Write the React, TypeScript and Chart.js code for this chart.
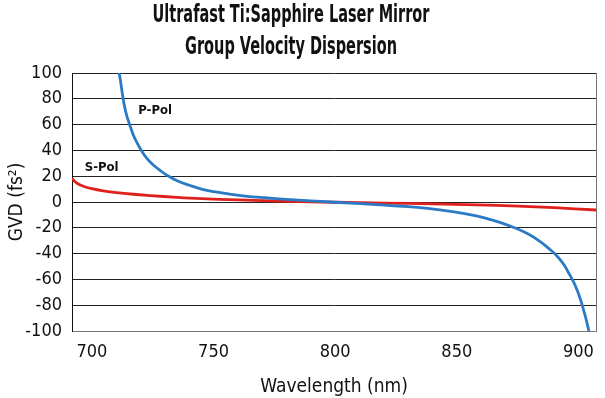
import React, { useEffect, useRef } from "react";
import { Chart, registerables } from "chart.js";

Chart.register(...registerables);

const TITLE_LINES = ["Ultrafast Ti:Sapphire Laser Mirror", "Group Velocity Dispersion"];
const X_TITLE = "Wavelength (nm)";
const Y_TITLE = "GVD (fs²)";

const X_TICKS = [700, 750, 800, 850, 900];
const Y_TICKS = [-100, -80, -60, -40, -20, 0, 20, 40, 60, 80, 100];
const X_MIN = 691.8;
const X_MAX = 907.3;

const P_POL_WL = [711.2, 711.8, 712.5, 713.3, 714.3, 715.5, 717, 718.5, 720.3, 722.5, 725, 728, 731, 735, 740, 745, 750, 756, 763, 771, 780, 790, 798, 806, 815, 823, 830, 838, 846, 852, 858, 863, 868, 874, 879, 884, 888, 891, 894, 896, 898, 899.5, 901, 902, 903, 904.3];
const P_POL_GVD = [100, 93, 84, 75, 67, 60, 52, 46, 40, 34, 29, 24.5, 20.5, 16.5, 13, 10, 8, 6.3, 4.6, 3.3, 2.1, 0.9, 0, -0.8, -1.8, -2.8, -3.6, -5, -6.8, -8.6, -10.8, -13.2, -16, -20.2, -24.5, -30.3, -36.3, -41.5, -48.5, -55, -62, -68.5, -76.5, -82.8, -89.7, -100];

const S_POL_WL = [691.8, 692.5, 693.5, 695, 697, 700, 704, 710, 717, 724, 735, 745, 760, 780, 800, 820, 840, 858, 875, 890, 907.3];
const S_POL_GVD = [18.5, 16.8, 15, 13.3, 11.8, 10.3, 8.8, 7.3, 6, 5, 3.6, 2.6, 1.6, 0.5, -0.2, -0.8, -1.5, -2.2, -3.2, -4.4, -6.2];

const SERIES_LABELS = ["P-Pol", "S-Pol"];
const LABEL_WL = [726, 704];
const LABEL_GVD = [71, 26.5];

const FONT = "'DejaVu Sans Condensed', 'Liberation Sans Narrow', 'Liberation Sans', sans-serif";

export default function App() {
  const ref = useRef<HTMLCanvasElement | null>(null);

  useEffect(() => {
    document.body.style.margin = "0";
    const canvas = ref.current;
    if (!canvas) return;

    const overlay = {
      id: "overlay",
      afterDraw(chart: any) {
        const ctx = chart.ctx;
        const xs = chart.scales.x;
        const ys = chart.scales.y;
        const area = chart.chartArea;
        ctx.save();
        ctx.strokeStyle = "#777";
        ctx.lineWidth = 1;
        ctx.beginPath();
        ctx.moveTo(Math.round(area.right) + 0.5, area.top);
        ctx.lineTo(Math.round(area.right) + 0.5, area.bottom);
        ctx.stroke();
        ctx.fillStyle = "#111";
        ctx.font = `bold 13px ${FONT}`;
        ctx.textAlign = "center";
        ctx.textBaseline = "middle";
        SERIES_LABELS.forEach((t, i) => {
          ctx.fillText(t, xs.getPixelForValue(LABEL_WL[i]), ys.getPixelForValue(LABEL_GVD[i]));
        });
        ctx.font = `bold 24px ${FONT}`;
        ctx.textBaseline = "alphabetic";
        const w0 = ctx.measureText(TITLE_LINES[0]).width;
        const sx = Math.min(1, 277 / w0);
        const cx = 291;
        const baselines = [22, 53.5];
        TITLE_LINES.forEach((t, i) => {
          ctx.save();
          ctx.translate(cx, baselines[i]);
          ctx.scale(sx, 1);
          ctx.fillText(t, 0, 0);
          ctx.restore();
        });
        ctx.restore();
      },
    };

    const chart = new Chart(canvas, {
      type: "line",
      data: {
        datasets: [
          {
            label: SERIES_LABELS[0],
            data: P_POL_WL.map((x, i) => ({ x, y: P_POL_GVD[i] })),
            borderColor: "#2a7ac6",
            borderWidth: 2.8,
            pointRadius: 0,
            tension: 0.4,
            fill: false,
          },
          {
            label: SERIES_LABELS[1],
            data: S_POL_WL.map((x, i) => ({ x, y: S_POL_GVD[i] })),
            borderColor: "#e0201c",
            borderWidth: 2.8,
            pointRadius: 0,
            tension: 0.4,
            fill: false,
          },
        ],
      },
      options: {
        animation: false,
        responsive: false,
        maintainAspectRatio: false,
        layout: { padding: { top: 73, right: 4, left: 0, bottom: 0 } },
        plugins: {
          legend: { display: false },
          title: { display: false },
          tooltip: { enabled: false },
        },
        scales: {
          x: {
            type: "linear",
            min: X_MIN,
            max: X_MAX,
            afterBuildTicks: (s: any) => {
              s.ticks = X_TICKS.map((v) => ({ value: v }));
            },
            afterFit: (s: any) => {
              s.height = 67;
            },
            grid: { display: false, drawTicks: false },
            border: { display: true, color: "#777", width: 1 },
            ticks: {
              color: "#111",
              font: { family: FONT, size: 18 },
              padding: 11,
              maxRotation: 0,
              autoSkip: false,
            },
            title: {
              display: true,
              text: X_TITLE,
              color: "#111",
              font: { family: FONT, size: 19 },
              padding: { top: 4, bottom: 0 },
            },
          },
          y: {
            type: "linear",
            min: -100,
            max: 100,
            afterBuildTicks: (s: any) => {
              s.ticks = Y_TICKS.map((v) => ({ value: v }));
            },
            afterFit: (s: any) => {
              s.width = 72;
            },
            grid: { color: "#222", lineWidth: 1, drawTicks: false },
            border: { display: true, color: "#111", width: 1 },
            ticks: {
              color: "#111",
              font: { family: FONT, size: 18 },
              padding: 10,
              autoSkip: false,
            },
            title: {
              display: true,
              text: Y_TITLE,
              color: "#111",
              font: { family: FONT, size: 19 },
              padding: { top: 6, bottom: 4 },
            },
          },
        },
      },
      plugins: [overlay],
    });

    return () => chart.destroy();
  }, []);

  return (
    <div style={{ width: 605, height: 398 }}>
      <canvas ref={ref} width={605} height={398} style={{ display: "block", width: 605, height: 398 }} />
    </div>
  );
}
